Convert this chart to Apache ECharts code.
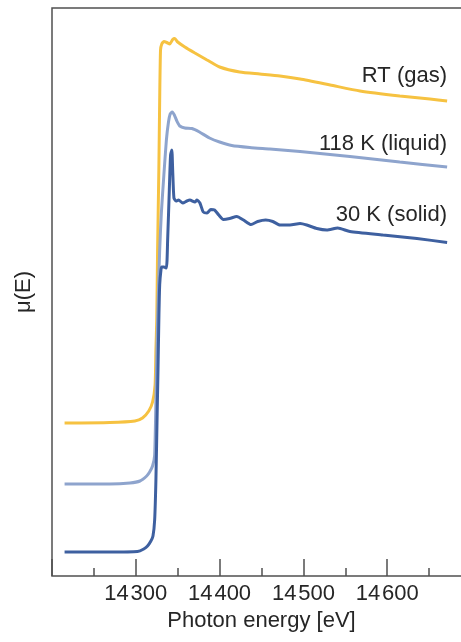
<!DOCTYPE html>
<html>
<head>
<meta charset="utf-8">
<script src="https://cdn.jsdelivr.net/npm/echarts@6/dist/echarts.min.js"></script>
<style>
  html, body { margin: 0; padding: 0; background: #fff; }
  #chart { width: 461px; height: 642px; }
</style>
</head>
<body>
<div id="chart"></div>
<script>
// Photon energy axis [eV]
const xTicks = [14300, 14400, 14500, 14600];

// RT (gas) spectrum: energy [eV] and absorption mu(E) [arb. units]
const gasEnergy = [14215, 14269, 14299, 14308, 14315.5, 14320, 14323, 14324, 14325, 14326, 14327.5, 14328.5, 14329.5,
  14331, 14333.5, 14337, 14340.5, 14344, 14346.5, 14350, 14358.5, 14370.5, 14385, 14400, 14424, 14448, 14472,
  14496, 14532, 14567.5, 14615, 14651, 14671.5];
const gasMu = [153, 153.5, 155, 158, 165, 174, 191, 226, 256, 326, 406, 476, 526,
  532, 534.5, 533.5, 532, 536.5, 537.5, 534, 529, 523, 516, 509, 504, 502, 500,
  497, 491, 485, 480, 477, 475];

// 118 K (liquid) spectrum
const liquidEnergy = [14215, 14269, 14293, 14305, 14313, 14316.5, 14320, 14322.5, 14324.5, 14326, 14328.5, 14330.5,
  14333.5, 14336.5, 14339, 14341, 14343.5, 14346, 14349, 14352.5, 14358.5, 14367, 14376, 14388, 14400,
  14414.5, 14436, 14460, 14496, 14555.5, 14615, 14671.5];
const liquidMu = [92, 92, 93, 95, 100, 104, 110, 121, 196, 256, 326, 363,
  401, 436, 454, 462, 464, 461, 455, 450, 448, 447.5, 444, 438, 434,
  430.5, 428.5, 427, 424.5, 419.5, 414, 409];

// 30 K (solid) spectrum
const solidEnergy = [14215, 14269, 14302, 14309.5, 14314, 14318, 14320.5, 14322.5, 14324, 14325.5, 14326.5, 14327.5,
  14328.5, 14330, 14331, 14333.5, 14336.5, 14338, 14340, 14341.5, 14343, 14344, 14345.5, 14348, 14351,
  14356, 14361, 14364.5, 14370.5, 14373, 14376.5, 14380.5, 14385, 14389.5, 14394, 14399, 14404.5,
  14412, 14420.5, 14428.5, 14437.5, 14445.5, 14455, 14463.5, 14472, 14484, 14496, 14504, 14516,
  14528, 14541, 14555.5, 14595, 14635.5, 14671.5];
const solidMu = [24, 24, 24.5, 27, 30, 35, 40, 56, 96, 163, 206, 256,
  291, 306, 309, 309, 308, 336, 386, 421, 426, 406, 378, 375, 376,
  373, 375, 376, 374, 376, 373, 364, 363, 366.5, 366, 361, 356.5,
  357.5, 359.5, 356, 351.5, 354.5, 356, 354.5, 351, 351, 352.5, 351, 347.5,
  346, 348, 344.5, 341, 337.5, 333.5];

const seriesNames = ['RT (gas)', '118 K (liquid)', '30 K (solid)'];
const seriesColors = ['#F6C241', '#8EA4CD', '#3E60A0'];

const zip = (xs, ys) => xs.map((x, i) => [x, ys[i]]);

const FONT = '"Liberation Sans", Arial, Helvetica, sans-serif';
const TEXT = '#262626';
const AXIS = '#505050';

const chart = echarts.init(document.getElementById('chart'), null, { renderer: 'canvas' });

function lineSeries(name, data, color) {
  return {
    name, type: 'line', data, showSymbol: false, smooth: 0.2, z: 3,
    lineStyle: { color, width: 3 }, animation: false
  };
}

// the frame runs past the right edge of the canvas
chart.setOption({
  animation: false,
  backgroundColor: '#ffffff',
  grid: {
    left: 52, top: 8, width: 419, bottom: 66,
    containLabel: false, outerBoundsMode: 'none',
    show: true, borderColor: AXIS, borderWidth: 1.5, backgroundColor: 'transparent'
  },
  xAxis: {
    type: 'value', min: 14200, max: 14700, interval: 100,
    name: 'Photon energy [eV]', nameLocation: 'middle', nameGap: 30,
    nameTextStyle: { fontFamily: FONT, fontSize: 22, color: TEXT },
    axisLine: { show: false },
    axisTick: { show: true, inside: true, length: 17, lineStyle: { color: AXIS, width: 1.5 } },
    minorTick: { show: true, splitNumber: 2, length: 8, lineStyle: { color: AXIS, width: 1.5 } },
    splitLine: { show: false },
    axisLabel: {
      margin: 7, fontFamily: FONT, fontSize: 22, color: TEXT,
      formatter: v => xTicks.includes(v) ? String(v).slice(0, 2) + '\u200A' + String(v).slice(2) : ''
    }
  },
  yAxis: {
    type: 'value', min: 0, max: 568,
    name: 'μ(E)', nameLocation: 'middle', nameGap: 17,
    nameTextStyle: { fontFamily: FONT, fontSize: 22, color: TEXT },
    axisLine: { show: false }, axisTick: { show: false },
    axisLabel: { show: false }, splitLine: { show: false }
  },
  series: [
    lineSeries(seriesNames[0], zip(gasEnergy, gasMu), seriesColors[0]),
    lineSeries(seriesNames[1], zip(liquidEnergy, liquidMu), seriesColors[1]),
    lineSeries(seriesNames[2], zip(solidEnergy, solidMu), seriesColors[2])
  ],
  graphic: [
    { type: 'text', right: 14, top: 65, style: { text: seriesNames[0], font: '22px ' + FONT, fill: TEXT } },
    { type: 'text', right: 14, top: 133, style: { text: seriesNames[1], font: '22px ' + FONT, fill: TEXT } },
    { type: 'text', right: 14, top: 204, style: { text: seriesNames[2], font: '22px ' + FONT, fill: TEXT } }
  ]
});
</script>
</body>
</html>
